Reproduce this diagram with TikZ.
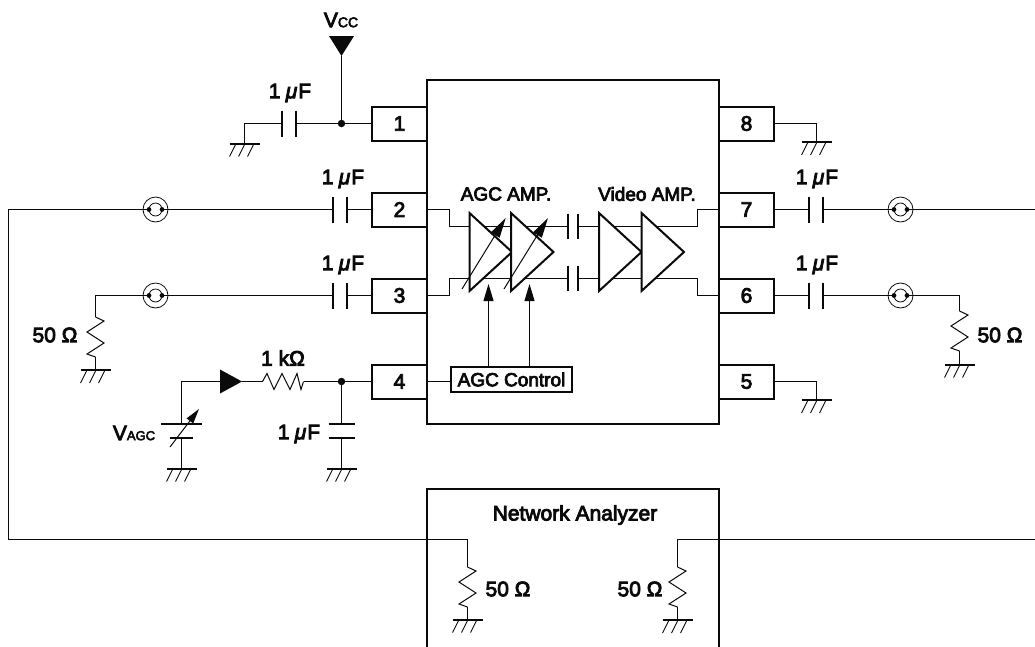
\documentclass[tikz,border=0pt]{standalone}
\usepackage{fontspec}
\setmainfont{Liberation Sans}[FakeBold=4]
\usetikzlibrary{positioning}
\usetikzlibrary{calc}
\usetikzlibrary{arrows.meta}
\definecolor{ink}{RGB}{10, 10, 10}
\newcommand{\uF}{1\hspace{0.25em}{\itshape μ}\hspace{0.05em}F}

\begin{document}
\begin{tikzpicture}[
    x=1pt,y=-1pt,
    font=\fontsize{21}{23}\selectfont,
    every node/.append style={text=ink, inner sep=0pt},
    % node styles
    wire/.style = {line width=1pt, draw=ink},
    heavy/.style = {line width=2pt, draw=ink},
    pinbox/.style = {
      draw=ink, fill=white, line width=2pt,
      minimum width=55pt,
      minimum height=34pt
    },
    chip/.style = {
      draw=ink, line width=2pt,
      minimum width=292pt,
      minimum height=344pt
    },
    ctrl/.style = {
      draw=ink, fill=white, line width=1.3pt,
      minimum width=121pt,
      minimum height=25pt,
      font=\fontsize{19}{21}\selectfont
    },
    amplabel/.style = {font=\fontsize{19}{21}\selectfont},
    coax/.style = {
      circle, draw=ink, line width=0.8pt,
      minimum size=25pt
    },
    dot/.style = {circle, fill=ink, minimum size=7.5pt},
    % arrow styles
    gainarr/.style = {-{Triangle[length=17pt,width=10pt]}, line width=1pt, draw=ink},
    % parts
    gnd/.pic = {
      \coordinate (-t) at (0,0);
      \draw[heavy] (-15,0) -- (15,0);
      \foreach \h in {-9,0,9} \draw[line width=0.9pt,draw=ink] (\h,1) -- (\h-6,13);
    },
    caph/.pic = {
      \coordinate (-l) at (-7,0);
      \coordinate (-r) at (7,0);
      \draw[heavy] (-7,-13) -- (-7,13) (7,-13) -- (7,13);
    },
    capin/.pic = {
      \coordinate (-l) at (-5,0);
      \coordinate (-r) at (5,0);
      \draw[heavy] (-5,-13) -- (-5,12) (5,-13) -- (5,12);
    },
    capv/.pic = {
      \coordinate (-t) at (0,-7);
      \coordinate (-b) at (0,7);
      \draw[heavy] (-13,-7) -- (13,-7) (-13,7) -- (13,7);
    },
    coaxin/.pic = {
      \draw[line width=0.8pt,draw=ink] (0,0) circle (6.5);
      \draw[wire] (-12.5,0) -- (-6.5,0) (6.5,0) -- (12.5,0);
      \fill[ink] (-6.5,0) circle (2.4) (6.5,0) circle (2.4);
    },
    resv/.pic = {
      \coordinate (-t) at (0,-20);
      \coordinate (-b) at (0,20);
      \draw[wire] (0,-20) -- (8.5,-16) -- (-8.5,-5) -- (8.5,6) -- (-8.5,17) -- (0,20);
    },
    resh/.pic = {
      \coordinate (-l) at (-20.5,0);
      \coordinate (-r) at (20.5,0);
      \draw[wire] (-20.5,0) -- (-16,-8) -- (-9,8) -- (-1,-8) -- (7,8) -- (14,-8) -- (18,8) -- (20.5,0);
    },
    amp/.pic = {
      \draw[heavy,fill=white,line join=miter] (0,-39) -- (42.5,0) -- (0,39) -- cycle;
    }
  ]

  \useasboundingbox (0,0) rectangle (1035,646);

  % --- Chip and pins
  \node[chip] (ic) at (573,252) {};
  \foreach \p/\x/\y in {1/399.5/123.5, 2/399.5/209.5, 3/399.5/295.5, 4/399.5/381.5,
                        8/746.5/123.5, 7/746.5/209.5, 6/746.5/295.5, 5/746.5/381.5}
    \node[pinbox] (pin\p) at (\x,\y) {\p};

  % --- Coax connectors
  \foreach \c/\x/\y in {cxa/155.5/209.5, cxb/155.5/295.5, cxc/900.5/209.5, cxd/900.5/295.5} {
    \node[coax] (\c) at (\x,\y) {};
    \pic at (\c) {coaxin};
  }

  % --- Network analyzer
  \draw[heavy] (427,660) -- (427,489) -- (719,489) -- (719,660);
  \node (nalabel) at (575,515) {Network Analyzer};

  % --- Parts
  \pic (cp1) at (289,123.5) {caph};
  \pic (cp2) at (340,209.5) {caph};
  \pic (cp3) at (340,295.5) {caph};
  \pic (cp7) at (815.5,209.5) {caph};
  \pic (cp6) at (815.5,295.5) {caph};
  \pic (cp4) at (341.5,431) {capv};
  \pic (rtop) at (95.5,337) {resv};
  \pic (rout) at (959.5,331) {resv};
  \pic (rnl) at (467.5,587) {resv};
  \pic (rnr) at (677.5,587) {resv};
  \pic (rk) at (283,381.5) {resh};

  \pic (ga) at (244.5,143.5) {gnd};
  \pic (gb) at (816.5,142) {gnd};
  \pic (gc) at (816.5,400) {gnd};
  \pic (gd) at (95.5,370) {gnd};
  \pic (ge) at (959.5,364.5) {gnd};
  \pic (gf) at (181.5,468.5) {gnd};
  \pic (gg) at (341.5,468.5) {gnd};
  \pic (gh) at (467.5,619.5) {gnd};
  \pic (gi) at (677.5,620) {gnd};

  \node[dot] (jvcc) at (341.5,123.5) {};
  \node[dot] (jagc) at (341.5,381.5) {};

  % --- Supply tips
  \coordinate (vcctip) at (341.5,56);
  \fill[ink] (329,36) -- (354,36) -- (vcctip) -- cycle;
  \coordinate (srcin) at (220,381.5);
  \coordinate (srctip) at (242,381.5);
  \fill[ink] (srcin) ++(0,-12) -- (srctip) -- ($(srcin)+(0,12)$) -- cycle;

  % --- Variable source
  \coordinate (vtop) at (181.5,424);
  \coordinate (vbot) at (181.5,438);
  \draw[heavy] (161,424) -- (202,424) (170,438) -- (193,438);
  \coordinate (varA) at (170,447);
  \coordinate (varB) at (199,409);
  \draw[-{Triangle[length=15pt,width=8pt]},line width=1pt,draw=ink] (varA) -- (varB);

  % --- Outer wires
  \coordinate (lefttop) at (8.5,209.5);
  \coordinate (leftbot) at (8.5,539.5);
  \coordinate (righttop) at (1035,209.5);
  \coordinate (rightbot) at (1035,539.5);
  \draw[wire] (cxa) -- (lefttop) -- (leftbot) -| (rnl-t);
  \draw[wire] (cxc) -- (righttop);
  \draw[wire] (rightbot) -| (rnr-t);
  \draw[wire] (rnl-b) -- (gh-t);
  \draw[wire] (rnr-b) -- (gi-t);
  \draw[wire] (cxa) -- (cp2-l);
  \draw[wire] (cp2-r) -- (pin2);
  \draw[wire] (cxb) -- (cp3-l);
  \draw[wire] (cp3-r) -- (pin3);
  \draw[wire] (cxb) -| (rtop-t);
  \draw[wire] (rtop-b) -- (gd-t);
  \draw[wire] (pin7) -- (cp7-l);
  \draw[wire] (cp7-r) -- (cxc);
  \draw[wire] (pin6) -- (cp6-l);
  \draw[wire] (cp6-r) -- (cxd);
  \draw[wire] (cxd) -| (rout-t);
  \draw[wire] (rout-b) -- (ge-t);
  \draw[wire] (pin8) -| (gb-t);
  \draw[wire] (pin5) -| (gc-t);
  \draw[wire] (ga-t) |- (cp1-l);
  \draw[wire] (cp1-r) -- (jvcc);
  \draw[wire] (jvcc) -- (pin1);
  \draw[wire] (vcctip) -- (jvcc);
  \draw[wire] (pin4) -- (jagc);
  \draw[wire] (jagc) -- (rk-r);
  \draw[wire] (rk-l) -- (srctip);
  \draw[wire] (srcin) -| (vtop);
  \draw[wire] (vbot) -- (gf-t);
  \draw[wire] (jagc) -- (cp4-t);
  \draw[wire] (cp4-b) -- (gg-t);

  % --- Inside the chip
  \coordinate (capup) at (573,226.5);
  \coordinate (capdn) at (573,278.5);
  \pic (cu) at (capup) {capin};
  \pic (cd) at (capdn) {capin};
  \draw[wire] (pin2.east) -- (449.5,209.5) |- (cu-l);
  \draw[wire] (cu-r) -- (697.5,226.5) |- (pin7.west);
  \draw[wire] (pin3.east) -- (449.5,295.5) |- (cd-l);
  \draw[wire] (cd-r) -- (697.5,278.5) |- (pin6.west);

  \foreach \x in {469.5,511,599,641.5}
    \pic at (\x,252) {amp};

  \draw[-{Triangle[length=20pt,width=10pt]},line width=1pt,draw=ink] (462,289) -- (505.7,218);
  \draw[-{Triangle[length=20pt,width=10pt]},line width=1pt,draw=ink] (504,289) -- (548,218);

  \node[ctrl] (agc) at (511.5,379.5) {AGC Control};
  \coordinate (biasA) at (488.5,284);
  \coordinate (biasB) at (529.5,284);
  \draw[gainarr] (agc.north -| biasA) -- (biasA);
  \draw[gainarr] (agc.north -| biasB) -- (biasB);
  \draw[wire] (pin4.east) -- (agc.west |- pin4.east);

  % --- Labels
  \node (vcclabel) at (341,20) {V{\fontsize{14}{15}\selectfont CC}};
  \node (vagclabel) at (134,433) {V{\fontsize{13}{14}\selectfont AGC}};
  \node[amplabel] (ampa) at (506,194) {AGC AMP.};
  \node[amplabel] (ampb) at (647,194) {Video AMP.};
  \node (la) at (290,93) {\uF};
  \node (lb) at (343,179) {\uF};
  \node (lc) at (343,265) {\uF};
  \node (ld) at (299,434) {\uF};
  \node (le) at (817,179) {\uF};
  \node (lf) at (817,265) {\uF};
  \node (rka) at (283,358) {1 kΩ};
  \node (ra) at (55,335) {50 Ω};
  \node (rb) at (1000,335) {50 Ω};
  \node (rc) at (508,589) {50 Ω};
  \node (rd) at (640,589) {50 Ω};

\end{tikzpicture}
\end{document}
